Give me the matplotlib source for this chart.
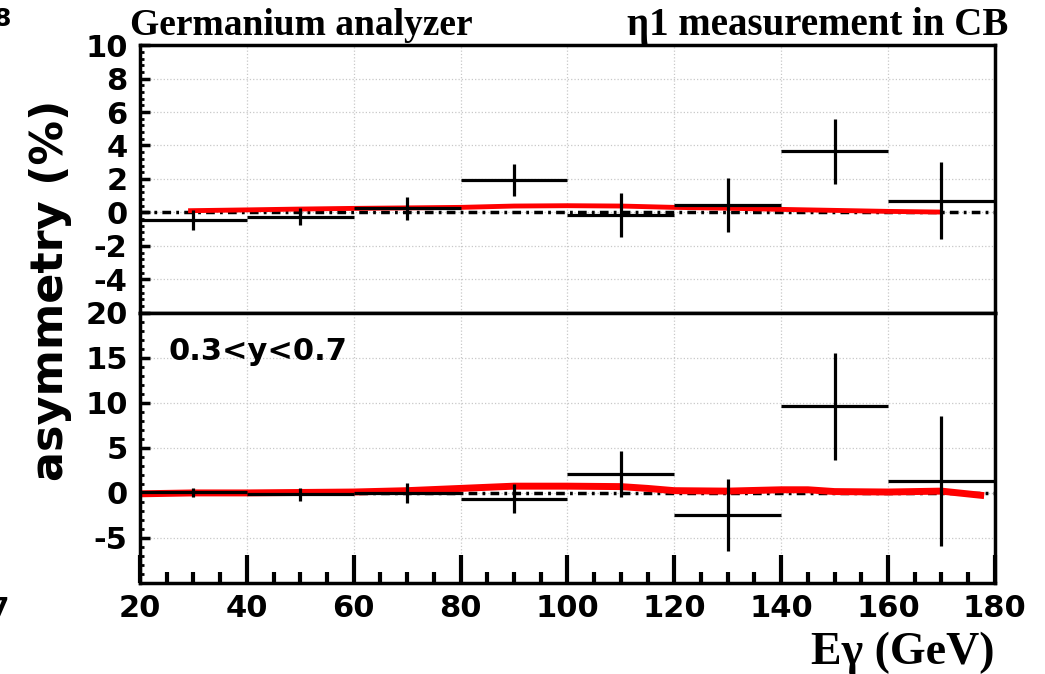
import numpy as np
import matplotlib.pyplot as plt
from matplotlib.ticker import MultipleLocator

# bins in E_gamma (GeV)
e_center = [30, 50, 70, 90, 110, 130, 150, 170]
e_halfwidth = [10, 10, 10, 10, 10, 10, 10, 10]

# top panel: eta1 asymmetry (%)
top_asym = [-0.45, -0.25, 0.25, 1.95, -0.15, 0.45, 3.65, 0.7]
top_err = [0.6, 0.5, 0.7, 0.95, 1.3, 1.6, 1.95, 2.3]

# bottom panel: 0.3<y<0.7
bot_asym = [0.1, -0.15, 0.0, -0.65, 2.1, -2.5, 9.6, 1.3]
bot_err = [0.5, 0.75, 1.1, 1.6, 2.6, 4.0, 5.9, 7.2]

# red curves (expectation)
top_fit_x = [29, 40, 50, 60, 70, 80, 90, 100, 110, 120, 130, 140, 150, 160, 170]
top_fit_y = [0.1, 0.15, 0.2, 0.24, 0.27, 0.3, 0.38, 0.4, 0.38, 0.3, 0.25, 0.18, 0.12, 0.06, 0.02]
bot_fit_x = [20, 30, 40, 50, 60, 70, 80, 90, 100, 110, 115, 120, 130, 140, 145, 150, 160, 170, 178]
bot_fit_y = [-0.1, 0.0, 0.0, 0.05, 0.1, 0.25, 0.5, 0.75, 0.75, 0.7, 0.5, 0.25, 0.2, 0.35, 0.35, 0.15, 0.1, 0.2, -0.3]

plt.rcParams['font.family'] = ['DejaVu Sans']
plt.rcParams['font.weight'] = 'bold'
plt.rcParams['axes.unicode_minus'] = False

fig = plt.figure(figsize=(10.45, 6.74), dpi=100)
ax1 = fig.add_axes([0.134, 0.536, 0.818, 0.397])
ax2 = fig.add_axes([0.134, 0.135, 0.818, 0.401])

dashdot = (0, (2.5, 1.5, 0.8, 1.5))

for ax, asym, err, fx, fy, lw_fit in [(ax1, top_asym, top_err, top_fit_x, top_fit_y, 3.5),
                                       (ax2, bot_asym, bot_err, bot_fit_x, bot_fit_y, 5)]:
    ax.axhline(0, color='black', lw=2.5, linestyle=dashdot, zorder=1)
    ax.plot(fx, fy, color='red', lw=lw_fit, solid_capstyle='butt', zorder=2)
    ax.errorbar(e_center, asym, xerr=e_halfwidth, yerr=err, fmt='none',
                ecolor='black', elinewidth=2.3, capsize=0, zorder=3)
    ax.set_xlim(20, 180)
    ax.grid(True, which='major', color='#c8c8c8', linestyle=':', lw=0.9)
    ax.set_axisbelow(True)
    for s in ax.spines.values():
        s.set_linewidth(2.5)
    ax.xaxis.set_major_locator(MultipleLocator(20))
    ax.xaxis.set_minor_locator(MultipleLocator(5))
    ax.tick_params(axis='y', which='major', direction='in', length=7, width=2.5,
                   labelsize=22, pad=9)
    ax.tick_params(axis='y', which='minor', direction='in', length=3, width=2)
    ax.tick_params(axis='x', which='major', direction='in', length=20, width=3,
                   labelsize=22, pad=8)
    ax.tick_params(axis='x', which='minor', direction='in', length=8, width=3)

ax1.set_ylim(-6, 10)
ax1.yaxis.set_minor_locator(MultipleLocator(0.4))
ax1.set_yticks([-4, -2, 0, 2, 4, 6, 8, 10])
ax1.tick_params(axis='x', which='both', length=0, labelbottom=False)

ax2.set_ylim(-10, 20)
ax2.yaxis.set_minor_locator(MultipleLocator(1))
ax2.set_yticks([-5, 0, 5, 10, 15, 20])

ax2.text(0.033, 0.855, '0.3<y<0.7', transform=ax2.transAxes, fontsize=22,
         fontweight='bold', va='center', ha='left')

fig.text(0.048, 0.57, 'asymmetry (%)', rotation=90, fontsize=32, fontweight='bold',
         ha='center', va='center')

serif = ['Liberation Serif', 'DejaVu Serif']
fig.text(0.124, 0.948, 'Germanium analyzer', family=serif, fontsize=27,
         fontweight='bold', ha='left', va='baseline')
fig.text(0.965, 0.948, '\u03b71 measurement in CB', family=serif, fontsize=28,
         fontweight='bold', ha='right', va='baseline')
fig.text(0.952, 0.015, 'E\u03b3 (GeV)', family=serif, fontsize=33,
         fontweight='bold', ha='right', va='baseline')

# clipped fragments of neighbouring panels at the left edge
fig.text(-0.006, 0.99, '8', fontsize=18, fontweight='bold', ha='left', va='top')
fig.text(-0.009, 0.095, '7', fontsize=19, fontweight='bold', ha='left', va='center')

fig.savefig('out.png', dpi=100)
